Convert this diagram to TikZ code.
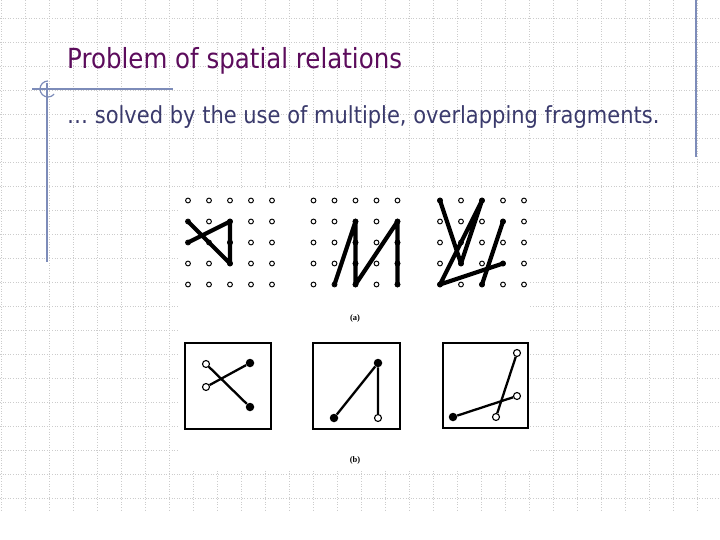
\documentclass[tikz,border=0pt]{standalone}
\usepackage{graphicx}
\usepackage{fontspec}
\setmainfont{DejaVu Sans}
\newfontfamily\labelfont{Liberation Serif}
\definecolor{titlepurple}{RGB}{92,12,92}
\definecolor{subblue}{RGB}{58,58,108}
\definecolor{slateblue}{RGB}{125,140,185}
\tikzset{
  gridline/.style={gray!40,dotted,line width=0.6pt},
  rule/.style={draw=slateblue,line width=1.2pt},
  hole/.style={draw=black,fill=white,line width=1pt},
  stroke/.style={line width=4.2pt,line cap=round,line join=round},
  frame/.style={line width=1.2pt},
  link/.style={line width=2.3pt},
  opendot/.style={circle,draw,fill=white,line width=1.1pt,inner sep=0pt,minimum size=7pt},
  fulldot/.style={circle,fill=black,inner sep=0pt,minimum size=8.5pt}
}
\begin{document}
\begin{tikzpicture}[x=1pt,y=-1pt]
    \useasboundingbox (0,0) rectangle (720,540);
    \fill[white] (0,0) rectangle (720,540);
    % slide background
    \foreach \x in {1,25,...,697}{\draw[gridline] (\x,0) -- (\x,510);}
    \foreach \y in {18,42,...,498}{\draw[gridline] (0,\y) -- (720,\y);}
    \draw[rule] (32,89) -- (173,89);
    \draw[rule] (47,83) -- (47,262);
    \draw[rule] (48,81) arc[start angle=270,end angle=40,radius=8];
    \draw[rule] (696,0) -- (696,157);
    \node[anchor=base west,inner sep=0pt,text=titlepurple,font=\fontsize{24.5}{28}\selectfont] (title) at (67,69) {\scalebox{1}[1.13]{Problem of spatial relations}};
    \node[anchor=base west,inner sep=0pt,text=subblue,font=\fontsize{21}{24}\selectfont] (sub) at (67,124) {\scalebox{1}[1.12]{… solved by the use of multiple, overlapping fragments.}};
    % scanned figure
    \fill[white] (178,188) rectangle (530,471);
    \foreach \g/\gx in {a/188,b/313.5,c/440}{\foreach \c in {0,...,4}{\foreach \r in {0,...,4}{
        \coordinate (\g-\c-\r) at (\gx+21*\c,200.5+21*\r);
        \draw[hole] (\g-\c-\r) circle (2.4pt);}}}
    \draw[stroke] (a-0-1) -- (a-2-3) -- (a-2-1) -- (a-0-2);
    \draw[stroke] (b-1-4) -- (b-2-1) -- (b-2-4) -- (b-4-1) -- (b-4-4);
    \draw[stroke] (c-0-0) -- (c-1-3) -- (c-2-0) -- (c-0-4) -- (c-3-3);
    \draw[stroke] (c-2-4) -- (c-3-1);
    \foreach \p in {a-2-1,a-2-2,a-2-3,b-2-1,b-2-2,b-2-3,b-2-4,b-4-1,b-4-2,b-4-3,b-4-4,c-0-0,c-2-0,c-0-4,c-3-3,c-3-1,c-2-4,c-1-3}{\fill (\p) circle (2.8pt);}
    \node[font=\labelfont\bfseries\fontsize{8.5}{10}\selectfont] (lbla) at (355,318) {(a)};
    % fragments
    \draw[frame] (185,343) rectangle (271,429);
    \draw[frame] (313,343) rectangle (400,429);
    \draw[frame] (443,343) rectangle (528,428);
    \node[opendot] (p1) at (206,364) {};
    \node[opendot] (p2) at (206,387) {};
    \node[fulldot] (p3) at (250,363) {};
    \node[fulldot] (p4) at (250,407) {};
    \draw[link] (p1) -- (p4);
    \draw[link] (p2) -- (p3);
    \node[fulldot] (q1) at (378,363) {};
    \node[fulldot] (q2) at (334,418) {};
    \node[opendot] (q3) at (378,418) {};
    \draw[link] (q2) -- (q1) -- (q3);
    \node[opendot] (r1) at (517,353) {};
    \node[opendot] (r2) at (517,396) {};
    \node[opendot] (r3) at (496,417) {};
    \node[fulldot] (r4) at (453,417) {};
    \draw[link] (r4) -- (r2);
    \draw[link] (r3) -- (r1);
    \node[font=\labelfont\bfseries\fontsize{8.5}{10}\selectfont] (lblb) at (355,460) {(b)};
\end{tikzpicture}
\end{document}
